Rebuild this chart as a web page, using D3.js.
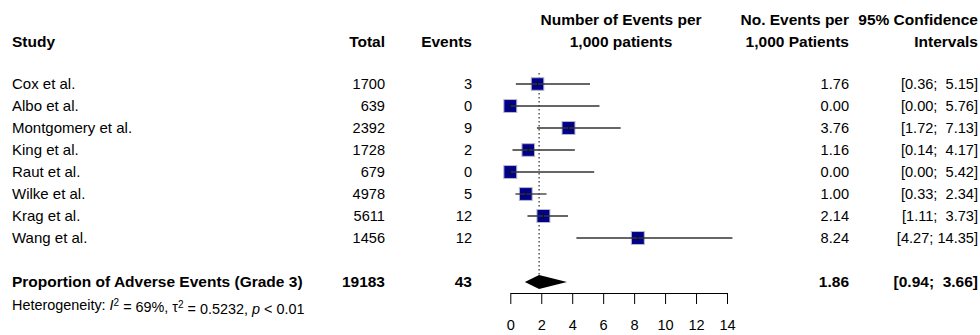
<!DOCTYPE html>
<html>
<head>
<meta charset="utf-8">
<script src="https://cdn.jsdelivr.net/npm/d3@7"></script>
<style>
  body { margin: 0; background: #fff; }
  svg { font-family: "Liberation Sans", Arial, Helvetica, sans-serif; font-size: 15px; }
  text { white-space: pre; }
  .bold { font-weight: bold; font-size: 15.5px; }
  .num { font-size: 14.6px; }
</style>
</head>
<body>
<svg id="forest"></svg>
<script>
const width = 980;
const height = 335;

// study data
const studies = ["Cox et al.", "Albo et al.", "Montgomery et al.", "King et al.",
                 "Raut et al.", "Wilke et al.", "Krag et al.", "Wang et al."];
const totals = [1700, 639, 2392, 1728, 679, 4978, 5611, 1456];
const events = [3, 0, 9, 2, 0, 5, 12, 12];
const estimates = [1.76, 0.00, 3.76, 1.16, 0.00, 1.00, 2.14, 8.24];
const lowers = [0.36, 0.00, 1.72, 0.14, 0.00, 0.33, 1.11, 4.27];
const uppers = [5.15, 5.76, 7.13, 4.17, 5.42, 2.34, 3.73, 14.35];
const weights = [12.2, 12.8, 12.9, 12.3, 12.8, 12.6, 13.0, 12.9];

// pooled estimate
const pooledLabel = "Proportion of Adverse Events (Grade 3)";
const pooledTotal = 19183;
const pooledEvents = 43;
const pooledEst = 1.86;
const pooledLower = 0.94;
const pooledUpper = 3.66;

const xTicks = [0, 2, 4, 6, 8, 10, 12, 14];

let svg = d3.select("#forest")
    .attr("width", width)
    .attr("height", height);

let xScale = d3.scaleLinear()
    .domain([0, 14])
    .range([510.3, 727]);

// row index -> vertical centre
let yScale = d3.scaleLinear()
    .domain([0, 10])
    .range([84, 304]);

let sizeScale = d3.scaleSqrt()
    .domain([0, d3.max(weights)])
    .range([0, 13]);

let fmt = d3.format(".2f");
function ciText(lo, hi) {
    let h = fmt(hi);
    let pad = h.length < 5 ? "  " : " ";
    return "[" + fmt(lo) + ";" + pad + h + "]";
}

// column positions
const colStudy = 12, colTotal = 385, colEvents = 472, colEst = 849, colCI = 978;

// headers
let head = svg.append("g").attr("class", "bold");
head.append("text").attr("x", colStudy).attr("y", 47).text("Study");
head.append("text").attr("x", colTotal).attr("y", 47).attr("text-anchor", "end").text("Total");
head.append("text").attr("x", colEvents).attr("y", 47).attr("text-anchor", "end").text("Events");
head.append("text").attr("x", 621).attr("y", 24.5).attr("text-anchor", "middle").text("Number of Events per");
head.append("text").attr("x", 621).attr("y", 47).attr("text-anchor", "middle").text("1,000 patients");
head.append("text").attr("x", colEst).attr("y", 24.5).attr("text-anchor", "end").text("No. Events per");
head.append("text").attr("x", colEst).attr("y", 47).attr("text-anchor", "end").text("1,000 Patients");
head.append("text").attr("x", colCI).attr("y", 24.5).attr("text-anchor", "end").text("95% Confidence");
head.append("text").attr("x", colCI).attr("y", 47).attr("text-anchor", "end").text("Intervals");

let rows = studies.map((s, i) => ({
    study: s, total: totals[i], events: events[i],
    est: estimates[i], lo: lowers[i], hi: uppers[i], w: weights[i], idx: i
}));

// reference line at pooled estimate
svg.append("line")
    .attr("x1", xScale(pooledEst)).attr("x2", xScale(pooledEst))
    .attr("y1", yScale(0) - 11).attr("y2", yScale(9) - 7)
    .attr("stroke", "#000")
    .attr("stroke-width", 1)
    .attr("stroke-dasharray", "1.5,2.5");

// text columns
let rowText = svg.append("g");
rowText.selectAll("text.study").data(rows).join("text")
    .attr("class", "study").attr("x", colStudy).attr("y", d => yScale(d.idx)).attr("dy", "0.35em")
    .text(d => d.study);
rowText.selectAll("text.total").data(rows).join("text")
    .attr("class", "total num").attr("x", colTotal).attr("y", d => yScale(d.idx)).attr("dy", "0.35em")
    .attr("text-anchor", "end").text(d => d.total);
rowText.selectAll("text.events").data(rows).join("text")
    .attr("class", "events num").attr("x", colEvents).attr("y", d => yScale(d.idx)).attr("dy", "0.35em")
    .attr("text-anchor", "end").text(d => d.events);
rowText.selectAll("text.est").data(rows).join("text")
    .attr("class", "est num").attr("x", colEst).attr("y", d => yScale(d.idx)).attr("dy", "0.35em")
    .attr("text-anchor", "end").text(d => fmt(d.est));
rowText.selectAll("text.ci").data(rows).join("text")
    .attr("class", "ci num").attr("x", colCI).attr("y", d => yScale(d.idx)).attr("dy", "0.35em")
    .attr("text-anchor", "end").text(d => ciText(d.lo, d.hi));

// squares
svg.selectAll("rect.box").data(rows).join("rect")
    .attr("class", "box")
    .attr("x", d => xScale(d.est) - sizeScale(d.w) / 2)
    .attr("y", d => yScale(d.idx) - sizeScale(d.w) / 2)
    .attr("width", d => sizeScale(d.w))
    .attr("height", d => sizeScale(d.w))
    .attr("fill", "#00008b")
    .attr("stroke", "#b8b8c8")
    .attr("stroke-width", 1);

// confidence intervals
svg.selectAll("line.ci").data(rows).join("line")
    .attr("class", "ci")
    .attr("x1", d => xScale(d.lo)).attr("x2", d => xScale(d.hi))
    .attr("y1", d => yScale(d.idx)).attr("y2", d => yScale(d.idx))
    .attr("stroke", "#333")
    .attr("stroke-width", 1.3);

svg.selectAll("line.mid").data(rows).join("line")
    .attr("class", "mid")
    .attr("x1", d => xScale(d.est)).attr("x2", d => xScale(d.est))
    .attr("y1", d => yScale(d.idx) - 3).attr("y2", d => yScale(d.idx) + 3)
    .attr("stroke", "#111")
    .attr("stroke-width", 1);

// pooled row
let yp = yScale(9);
let pooled = svg.append("g").attr("class", "bold");
pooled.append("text").attr("x", colStudy).attr("y", yp).attr("dy", "0.35em").text(pooledLabel);
pooled.append("text").attr("x", colTotal).attr("y", yp).attr("dy", "0.35em").attr("text-anchor", "end").text(pooledTotal);
pooled.append("text").attr("x", colEvents).attr("y", yp).attr("dy", "0.35em").attr("text-anchor", "end").text(pooledEvents);
pooled.append("text").attr("x", colEst).attr("y", yp).attr("dy", "0.35em").attr("text-anchor", "end").text(fmt(pooledEst));
pooled.append("text").attr("x", colCI).attr("y", yp).attr("dy", "0.35em").attr("text-anchor", "end").text(ciText(pooledLower, pooledUpper));

svg.append("path")
    .attr("d", d3.line()([
        [xScale(pooledLower), yp],
        [xScale(pooledEst), yp - 7],
        [xScale(pooledUpper), yp],
        [xScale(pooledEst), yp + 7]
    ]) + "Z")
    .attr("fill", "#000");

// heterogeneity line
let het = svg.append("text")
    .attr("x", colStudy).attr("y", yScale(10) + 1).attr("dy", "0.35em")
    .attr("font-size", "14.4px");
het.append("tspan").text("Heterogeneity: ");
het.append("tspan").attr("font-style", "italic").text("I");
het.append("tspan").attr("dy", "-0.45em").attr("font-size", "10px").text("2");
het.append("tspan").attr("dy", "0.45em").text(" = 69%, \u03c4");
het.append("tspan").attr("dy", "-0.45em").attr("font-size", "10px").text("2");
het.append("tspan").attr("dy", "0.45em").text(" = 0.5232, ");
het.append("tspan").attr("font-style", "italic").text("p");
het.append("tspan").text(" < 0.01");

// x axis
let xAxis = d3.axisBottom(xScale)
    .tickValues(xTicks)
    .tickSize(11)
    .tickSizeOuter(0)
    .tickPadding(16)
    .tickFormat(d3.format("d"));
let gx = svg.append("g")
    .attr("class", "x-axis")
    .attr("transform", "translate(0,293)")
    .call(xAxis);
gx.selectAll("text")
    .attr("font-size", "14.6px")
    .attr("font-family", "'Liberation Sans', Arial, sans-serif")
    .attr("fill", "#000");
gx.selectAll("line, path").attr("stroke", "#000");
</script>
</body>
</html>
